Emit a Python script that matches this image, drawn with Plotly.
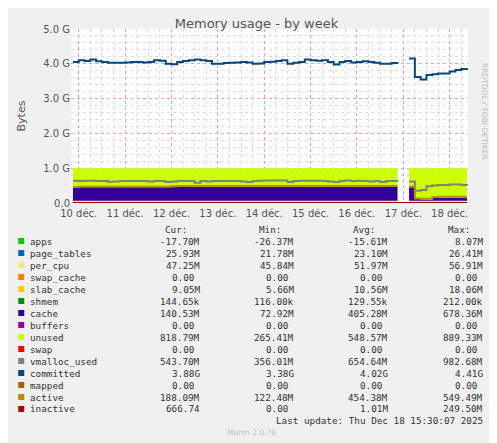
import plotly.graph_objects as go
import pandas as pd

G = 1e9
times = list(pd.date_range("2025-12-09 21:00", "2025-12-18 09:00", freq="3h"))

committed = [4.05,4.10,4.08,4.12,4.07,4.05,4.03,4.03,4.03,
             4.04,4.05,4.05,4.04,4.05,4.10,4.09,4.00,
             3.99,4.05,4.08,4.10,4.12,4.10,4.08,4.00,
             4.00,4.02,4.03,4.04,4.05,4.04,4.00,4.01,
             4.05,4.06,4.08,4.10,4.00,4.03,4.05,4.12,
             4.10,4.09,4.10,4.05,3.98,4.05,4.08,4.04,
             4.05,4.07,4.05,4.03,4.00,4.00,4.02,4.00,
             None,4.15,3.62,3.55,3.68,3.70,3.72,3.72,
             3.78,3.82,3.85,3.87]
apps = [-0.017]*len(committed)
page_tables = [0.025]*len(committed)
per_cpu = [0.05]*len(committed)
slab_cache = [0.010]*len(committed)
cache = [0.40,0.40,0.40,0.40,0.40,0.40,0.40,0.40,0.40,
         0.40,0.40,0.40,0.40,0.40,0.40,0.40,0.40,
         0.41,0.42,0.42,0.42,0.42,0.42,0.42,0.42,
         0.42,0.42,0.42,0.42,0.42,0.42,0.42,0.42,
         0.42,0.42,0.42,0.42,0.42,0.42,0.42,0.42,
         0.42,0.42,0.42,0.42,0.42,0.42,0.42,0.42,
         0.42,0.42,0.42,0.42,0.42,0.42,0.42,0.42,
         None,0.40,0.05,0.03,0.03,0.08,0.08,0.08,
         0.08,0.08,0.08,0.08]
unused = [0.532,0.532,0.532,0.532,0.532,0.532,0.532,0.532,0.532,
          0.532,0.532,0.532,0.532,0.532,0.532,0.532,0.532,
          0.522,0.512,0.512,0.512,0.512,0.512,0.512,0.512,
          0.512,0.512,0.512,0.512,0.512,0.512,0.512,0.512,
          0.512,0.512,0.512,0.512,0.512,0.512,0.512,0.512,
          0.512,0.512,0.512,0.512,0.512,0.512,0.512,0.512,
          0.512,0.512,0.512,0.512,0.512,0.512,0.512,0.512,
          None,0.532,0.882,0.902,0.902,0.852,0.852,0.852,
          0.852,0.852,0.852,0.852]
vmalloc = [0.64,0.63,0.64,0.64,0.63,0.63,0.61,0.62,0.63,
           0.63,0.63,0.63,0.63,0.62,0.63,0.63,0.60,
           0.62,0.63,0.63,0.63,0.58,0.63,0.62,0.63,
           0.63,0.63,0.63,0.63,0.62,0.60,0.63,0.64,
           0.65,0.65,0.65,0.65,0.60,0.63,0.64,0.64,
           0.64,0.64,0.63,0.62,0.60,0.63,0.65,0.63,
           0.64,0.63,0.62,0.63,0.60,0.63,0.63,0.62,
           None,0.62,0.35,0.37,0.48,0.50,0.52,0.52,
           0.53,0.53,0.52,0.51]
active = [0.46,0.47,0.47,0.47,0.47,0.47,0.47,0.47,0.47,
          0.47,0.47,0.47,0.47,0.47,0.47,0.47,0.47,
          0.48,0.49,0.49,0.49,0.49,0.49,0.49,0.49,
          0.49,0.49,0.49,0.49,0.49,0.49,0.49,0.49,
          0.49,0.49,0.49,0.49,0.49,0.49,0.49,0.49,
          0.49,0.49,0.49,0.49,0.49,0.49,0.49,0.49,
          0.49,0.49,0.49,0.49,0.49,0.49,0.49,0.49,
          None,0.47,0.13,0.12,0.12,0.17,0.18,0.18,
          0.18,0.18,0.18,0.18]
inactive = [0.003]*len(committed)

day_ticks = pd.date_range("2025-12-10", "2025-12-18", freq="D")
day_labels = ["10 déc.","11 déc.","12 déc.","13 déc.","14 déc.","15 déc.","16 déc.","17 déc.","18 déc."]
y_ticks = [0,1,2,3,4,5]
y_labels = ["0.0","1.0 G","2.0 G","3.0 G","4.0 G","5.0 G"]

GAP = committed.index(None)

def scale(a):
    return [None if v is None else v*G for v in a]

fig = go.Figure()
areas = [("apps", apps, "#00CC00"), ("page_tables", page_tables, "#0066B3"),
         ("per_cpu", per_cpu, "#FFE080"), ("slab_cache", slab_cache, "#FFCC00"),
         ("cache", cache, "#330099"), ("unused", unused, "#CCFF00")]
for seg, (a, b) in enumerate([(0, GAP), (GAP + 1, len(times))]):
    for name, vals, col in areas:
        fig.add_trace(go.Scatter(x=times[a:b], y=scale(vals[a:b]), name=name,
                                 stackgroup="s%d" % seg, mode="lines",
                                 line=dict(width=0, color=col, shape="hv"), fillcolor=col))
for name, vals, col in [("vmalloc_used", vmalloc, "#808080"),
                        ("active", active, "#B38F00"),
                        ("inactive", inactive, "#B30000"),
                        ("committed", committed, "#00487D")]:
    fig.add_trace(go.Scatter(x=times, y=scale(vals), name=name, mode="lines",
                             line=dict(width=2, color=col, shape="hv"), connectgaps=False))

DX, DY = 6, 7  # page offset compensation
font = "DejaVu Sans"
fig.update_layout(
    width=497, height=443, showlegend=False,
    paper_bgcolor="#F0F0F0", plot_bgcolor="white",
    margin=dict(l=67 - DX, r=31 + DX, t=28 - DY, b=241 + DY),
    title=dict(text="Memory usage - by week", x=0.5, xanchor="center", y=1 - 11/443,
               font=dict(family=font, size=13, color="#555")),
    font=dict(family=font, size=10, color="#555"),
    xaxis=dict(range=["2025-12-09 20:00", "2025-12-18 09:30"], tickvals=list(day_ticks),
               ticktext=day_labels, showgrid=True, gridcolor="#E8A0A0", griddash="dot",
               gridwidth=1, ticks="", showline=False, zeroline=False, ticklabelstandoff=3,
               minor=dict(dtick=6*3600*1000, showgrid=True, gridcolor="#DDDDDD", griddash="dot")),
    yaxis=dict(range=[0, 5.0*G], tickvals=[v*G for v in y_ticks], ticktext=y_labels,
               showgrid=True, gridcolor="#E8A0A0", griddash="dot", zeroline=False,
               title=dict(text="Bytes", font=dict(size=11, color="#555")),
               minor=dict(dtick=0.2*G, showgrid=True, gridcolor="#DDDDDD", griddash="dot")),
)

mono = "DejaVu Sans Mono"
ann = []
PL, PR, PT, PB = 67 - DX, 466 - DX, 28 - DY, 202 - DY
def px(xp): return (xp - DX - PL) / (PR - PL)
def py(yp): return (PB - (yp - DY)) / (PB - PT)
def txt(x, y, s, anchor="left", size=9.3, color="#333", fam=mono):
    ann.append(dict(x=x, y=y, xref="paper", yref="paper", text=s, showarrow=False,
                    xanchor=anchor, yanchor="middle", font=dict(family=fam, size=size, color=color)))

legend = [
 ("apps", "#00CC00", "-17.70M", "-26.37M", "-15.61M", "8.07M"),
 ("page_tables", "#0066B3", "25.93M", "21.78M", "23.10M", "26.41M"),
 ("per_cpu", "#FFE080", "47.25M", "45.84M", "51.97M", "56.91M"),
 ("swap_cache", "#FF8000", "0.00", "0.00", "0.00", "0.00"),
 ("slab_cache", "#FFCC00", "9.05M", "5.66M", "10.56M", "18.06M"),
 ("shmem", "#008F00", "144.65k", "116.00k", "129.55k", "212.00k"),
 ("cache", "#330099", "140.53M", "72.92M", "405.28M", "678.36M"),
 ("buffers", "#990099", "0.00", "0.00", "0.00", "0.00"),
 ("unused", "#CCFF00", "818.79M", "265.41M", "548.57M", "889.33M"),
 ("swap", "#FF0000", "0.00", "0.00", "0.00", "0.00"),
 ("vmalloc_used", "#808080", "543.70M", "356.01M", "654.64M", "982.68M"),
 ("committed", "#00487D", "3.88G", "3.38G", "4.02G", "4.41G"),
 ("mapped", "#B35A00", "0.00", "0.00", "0.00", "0.00"),
 ("active", "#B38F00", "188.09M", "122.48M", "454.38M", "549.49M"),
 ("inactive", "#B30000", "666.74", "0.00", "1.01M", "249.50M"),
]
txt(px(186), py(228), "Cur:", "right")
txt(px(280), py(228), "Min:", "right")
txt(px(375), py(228), "Avg:", "right")
txt(px(470), py(228), "Max:", "right")
shapes = []
for i, (n, col, c, mi, av, ma) in enumerate(legend):
    yy = 240 + 12*i
    shapes.append(dict(type="rect", xref="paper", yref="paper", x0=px(14), x1=px(20),
                       y0=py(yy+3), y1=py(yy-3), fillcolor=col, line=dict(width=0)))
    txt(px(24), py(yy), n)
    for xr, v in [(199, c), (293, mi), (388, av), (483, ma)]:
        txt(px(xr - 6 if v == "0.00" else xr), py(yy), v, "right")
txt(px(483), py(419), "Last update: Thu Dec 18 15:30:07 2025", "right")
txt(px(248), py(431), "Munin 2.0.76", "center", size=7.5, color="#BBB", fam=font)
ann.append(dict(x=px(489), y=py(60), xref="paper", yref="paper", text="RRDTOOL / TOBI OETIKER",
                showarrow=False, textangle=90, font=dict(family=font, size=7.5, color="#BBB")))
fig.update_layout(annotations=ann, shapes=shapes)
fig.write_html("out.html")
